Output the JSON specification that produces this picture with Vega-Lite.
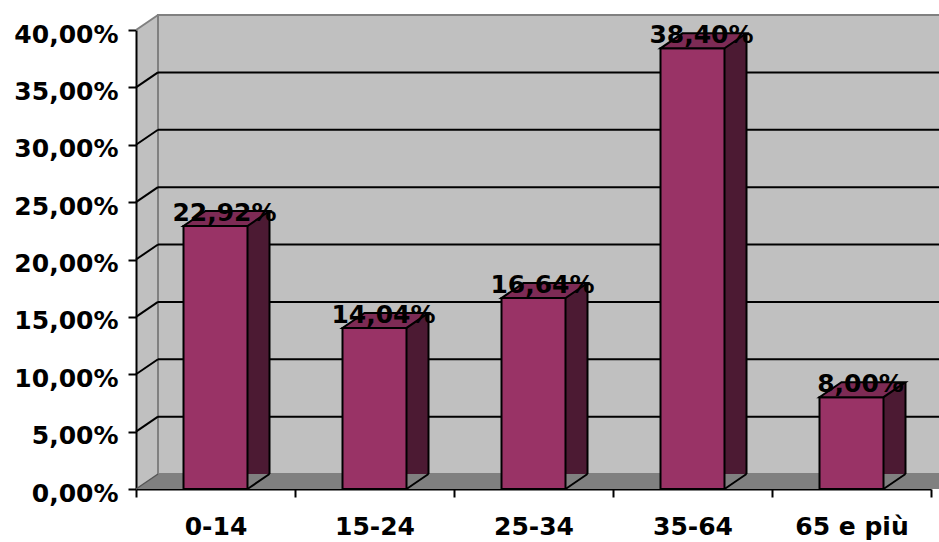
{
  "$schema": "https://vega.github.io/schema/vega-lite/v6.json",
  "width": 795,
  "height": 459,
  "autosize": "none",
  "padding": {"left": 136, "top": 30, "right": 8, "bottom": 53},
  "background": "white",
  "config": {
    "locale": {"number": {"decimal": ",", "thousands": ".", "grouping": [3], "currency": ["€", ""]}},
    "view": {"fill": "#c0c0c0", "stroke": null},
    "axis": {"labelFont": "DejaVu Sans", "labelFontWeight": "bold", "labelFontSize": 25, "labelColor": "black", "domainColor": "black", "domainWidth": 2, "tickColor": "black", "tickWidth": 2, "tickSize": 8, "grid": false, "title": null, "zindex": 1}
  },
  "datasets": {
    "bars": [
      {"fascia": "0-14", "quota": 0.2292},
      {"fascia": "15-24", "quota": 0.1404},
      {"fascia": "25-34", "quota": 0.1664},
      {"fascia": "35-64", "quota": 0.384},
      {"fascia": "65 e più", "quota": 0.08}
    ],
    "grid": [{"v": 0.05}, {"v": 0.1}, {"v": 0.15}, {"v": 0.2}, {"v": 0.25}, {"v": 0.3}, {"v": 0.35}],
    "one": [{"k": "parete"}]
  },
  "layer": [
    {
      "data": {"name": "bars"},
      "mark": {"type": "bar", "opacity": 0},
      "encoding": {
        "x": {"field": "fascia", "type": "nominal", "sort": null, "scale": {"paddingInner": 0, "paddingOuter": 0}, "axis": {"tickBand": "extent", "labelAngle": 0, "labelPadding": 17}},
        "y": {"field": "quota", "type": "quantitative", "scale": {"domain": [0, 0.4], "nice": false}, "axis": {"values": [0, 0.05, 0.1, 0.15, 0.2, 0.25, 0.3, 0.35, 0.4], "format": ".2%", "labelPadding": 10, "labelOffset": 4}}
      }
    },
    {
      "data": {"name": "one"},
      "mark": {"type": "point", "shape": "M0,0L22,-15L22,0Z", "size": 4, "filled": true, "fill": "#c0c0c0", "strokeWidth": 0, "opacity": 1},
      "encoding": {"x": {"datum": "0-14", "bandPosition": 0}, "y": {"datum": 0.4}}
    },
    {
      "data": {"name": "one"},
      "mark": {"type": "point", "shape": "M0,0L22,-15", "size": 4, "filled": false, "stroke": "#808080", "strokeWidth": 2, "opacity": 1},
      "encoding": {"x": {"datum": "0-14", "bandPosition": 0}, "y": {"datum": 0.4}}
    },
    {
      "data": {"name": "one"},
      "mark": {"type": "rect", "fill": "#c0c0c0", "stroke": "#808080", "strokeWidth": 2, "xOffset": 22, "x2Offset": 22, "yOffset": -15, "y2Offset": -15},
      "encoding": {"x": {"datum": "0-14", "bandPosition": 0}, "x2": {"datum": "65 e più", "bandPosition": 1}, "y": {"datum": 0.4}, "y2": {"datum": 0}}
    },
    {
      "data": {"name": "one"},
      "mark": {"type": "rect", "fill": "#808080", "xOffset": 22, "x2Offset": 22, "y2Offset": -15},
      "encoding": {"x": {"datum": "0-14", "bandPosition": 0}, "x2": {"datum": "65 e più", "bandPosition": 1}, "y": {"datum": 0}, "y2": {"datum": 0}}
    },
    {
      "data": {"name": "one"},
      "mark": {"type": "point", "shape": "M0,0L22,-15L22,0Z", "size": 4, "filled": true, "fill": "#808080", "strokeWidth": 0, "opacity": 1},
      "encoding": {"x": {"datum": "0-14", "bandPosition": 0}, "y": {"datum": 0}}
    },
    {
      "data": {"name": "one"},
      "mark": {"type": "point", "shape": "M0,0L22,-15", "size": 4, "filled": false, "stroke": "#555555", "strokeWidth": 1.5, "opacity": 1},
      "encoding": {"x": {"datum": "0-14", "bandPosition": 0}, "y": {"datum": 0}}
    },
    {
      "data": {"name": "grid"},
      "mark": {"type": "rule", "stroke": "black", "strokeWidth": 2, "xOffset": 22, "x2Offset": 22, "yOffset": -15},
      "encoding": {"x": {"datum": "0-14", "bandPosition": 0}, "x2": {"datum": "65 e più", "bandPosition": 1}, "y": {"field": "v", "type": "quantitative"}}
    },
    {
      "data": {"name": "grid"},
      "mark": {"type": "point", "shape": "M0,0L22,-15", "size": 4, "filled": false, "stroke": "black", "strokeWidth": 2, "opacity": 1},
      "encoding": {"x": {"datum": "0-14", "bandPosition": 0}, "y": {"field": "v", "type": "quantitative"}}
    },
    {
      "data": {"name": "bars"},
      "mark": {"type": "bar", "width": 22, "xOffset": 43, "yOffset": -15, "fill": "#4c1a33"},
      "encoding": {"x": {"field": "fascia", "type": "nominal", "sort": null}, "y": {"field": "quota", "type": "quantitative"}}
    },
    {
      "data": {"name": "bars"},
      "mark": {"type": "point", "shape": "M32,0L55,0L55,-15Z", "size": 4, "filled": true, "fill": "#808080", "strokeWidth": 0, "opacity": 1},
      "encoding": {"x": {"field": "fascia", "type": "nominal", "sort": null}, "y": {"datum": 0}}
    },
    {
      "data": {"name": "bars"},
      "mark": {"type": "bar", "width": {"band": 0.4025}, "fill": "#993366", "stroke": "black", "strokeWidth": 2},
      "encoding": {"x": {"field": "fascia", "type": "nominal", "sort": null}, "y": {"field": "quota", "type": "quantitative"}}
    },
    {
      "data": {"name": "bars"},
      "mark": {"type": "point", "shape": "M-32,0L32,0L54,-15L-10,-15Z", "size": 4, "filled": true, "fill": "#7d2b55", "stroke": "black", "strokeWidth": 2, "opacity": 1},
      "encoding": {"x": {"field": "fascia", "type": "nominal", "sort": null}, "y": {"field": "quota", "type": "quantitative"}}
    },
    {
      "data": {"name": "bars"},
      "mark": {"type": "rule", "stroke": "black", "strokeWidth": 2, "xOffset": 54, "yOffset": -15, "y2Offset": -15},
      "encoding": {"x": {"field": "fascia", "type": "nominal", "sort": null}, "y": {"field": "quota", "type": "quantitative"}, "y2": {"datum": 0}}
    },
    {
      "data": {"name": "bars"},
      "mark": {"type": "point", "shape": "M32,0L54,-15", "size": 4, "filled": false, "stroke": "black", "strokeWidth": 2, "opacity": 1},
      "encoding": {"x": {"field": "fascia", "type": "nominal", "sort": null}, "y": {"datum": 0}}
    },
    {
      "data": {"name": "bars"},
      "mark": {"type": "text", "font": "DejaVu Sans", "fontWeight": "bold", "fontSize": 25, "color": "black", "dx": 9, "dy": -5, "baseline": "alphabetic", "align": "center"},
      "encoding": {"x": {"field": "fascia", "type": "nominal", "sort": null}, "y": {"field": "quota", "type": "quantitative"}, "text": {"field": "quota", "type": "quantitative", "format": ".2%"}}
    }
  ]
}
